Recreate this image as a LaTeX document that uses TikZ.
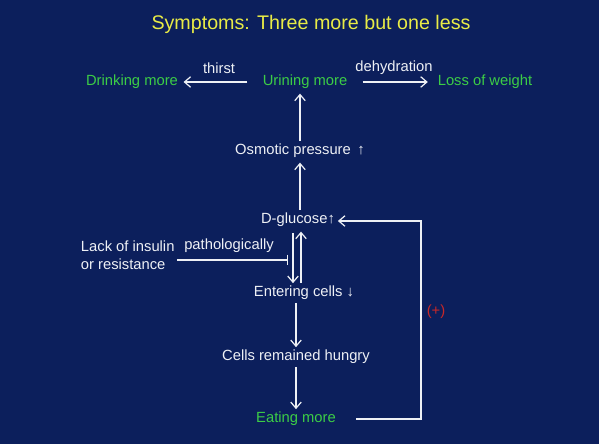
\documentclass[tikz,border=0pt]{standalone}
\usepackage{fontspec}
\setmainfont{Liberation Sans}
\usetikzlibrary{arrows.meta}
\definecolor{slidebg}{RGB}{12,31,92}
\definecolor{titleyellow}{RGB}{232,235,70}
\definecolor{textgreen}{RGB}{60,205,70}
\definecolor{textwhite}{RGB}{238,240,245}
\definecolor{plusred}{RGB}{200,40,40}
\begin{document}
\begin{tikzpicture}[x=0.02cm,y=-0.02cm,
  txt/.style={text=textwhite,inner sep=1.5pt,font=\fontsize{8.4}{10.5}\selectfont},
  gtxt/.style={txt,text=textgreen},
  arr/.style={draw=textwhite,line width=0.7pt,-{Straight Barb[length=3.5pt,width=6pt]}},
  inhib/.style={draw=textwhite,line width=0.7pt,-{Bar[width=6pt]}}]
\fill[slidebg] (0,0) rectangle (599,444);

\node[text=titleyellow,font=\fontsize{11.2}{13}\selectfont] (title) at (311,24) {Symptoms: Three more but one less};

\node[gtxt] (drink) at (132,82) {Drinking more};
\node[txt] (thirst) at (219,68) {thirst};
\node[gtxt] (urine) at (305,82) {Urining more};
\node[txt] (dehyd) at (394,68) {dehydration};
\node[gtxt] (loss) at (485,82) {Loss of weight};
\node[txt] (osm) at (300,151) {Osmotic pressure \,↑};
\node[txt] (gluc) at (298,220) {D-glucose↑};
\node[txt,align=left,anchor=west] (lack) at (78,255) {Lack of insulin\\or resistance};
\node[txt] (patho) at (229,246) {pathologically};
\node[txt] (enter) at (304,293) {Entering cells ↓};
\node[txt] (hungry) at (296,357) {Cells remained hungry};
\node[gtxt] (eat) at (296,419) {Eating more};
\node[txt,text=plusred] (plus) at (436,312) {(+)};

\coordinate (block) at (288,260);
\coordinate (fb) at (421,221);

\draw[arr,shorten <=7pt,shorten >=1.5pt] (urine.west) -- (drink.east);
\draw[arr,shorten <=7pt,shorten >=4pt] (urine.east) -- (loss.west);
\draw[arr,shorten >=1pt] (osm.north) -- (osm.north |- urine.south);
\draw[arr,shorten >=1pt] ([xshift=2*0.02cm]gluc.north) -- ([xshift=2*0.02cm]gluc.north |- osm.south);
\draw[arr,shorten <=2pt] ([xshift=-5*0.02cm]gluc.south) -- ([xshift=-5*0.02cm]gluc.south |- enter.north);
\draw[arr,shorten >=1pt] ([xshift=3*0.02cm]gluc.south |- enter.north) -- ([xshift=3*0.02cm]gluc.south);
\draw[inhib] (lack.east |- block) -- (block);
\draw[arr] (enter.south -| hungry) -- (hungry.north);
\draw[arr] (hungry.south) -- (eat.north);
\draw[arr,shorten <=10pt] (eat.east) -| (fb) -- (gluc.east |- fb);
\end{tikzpicture}
\end{document}
